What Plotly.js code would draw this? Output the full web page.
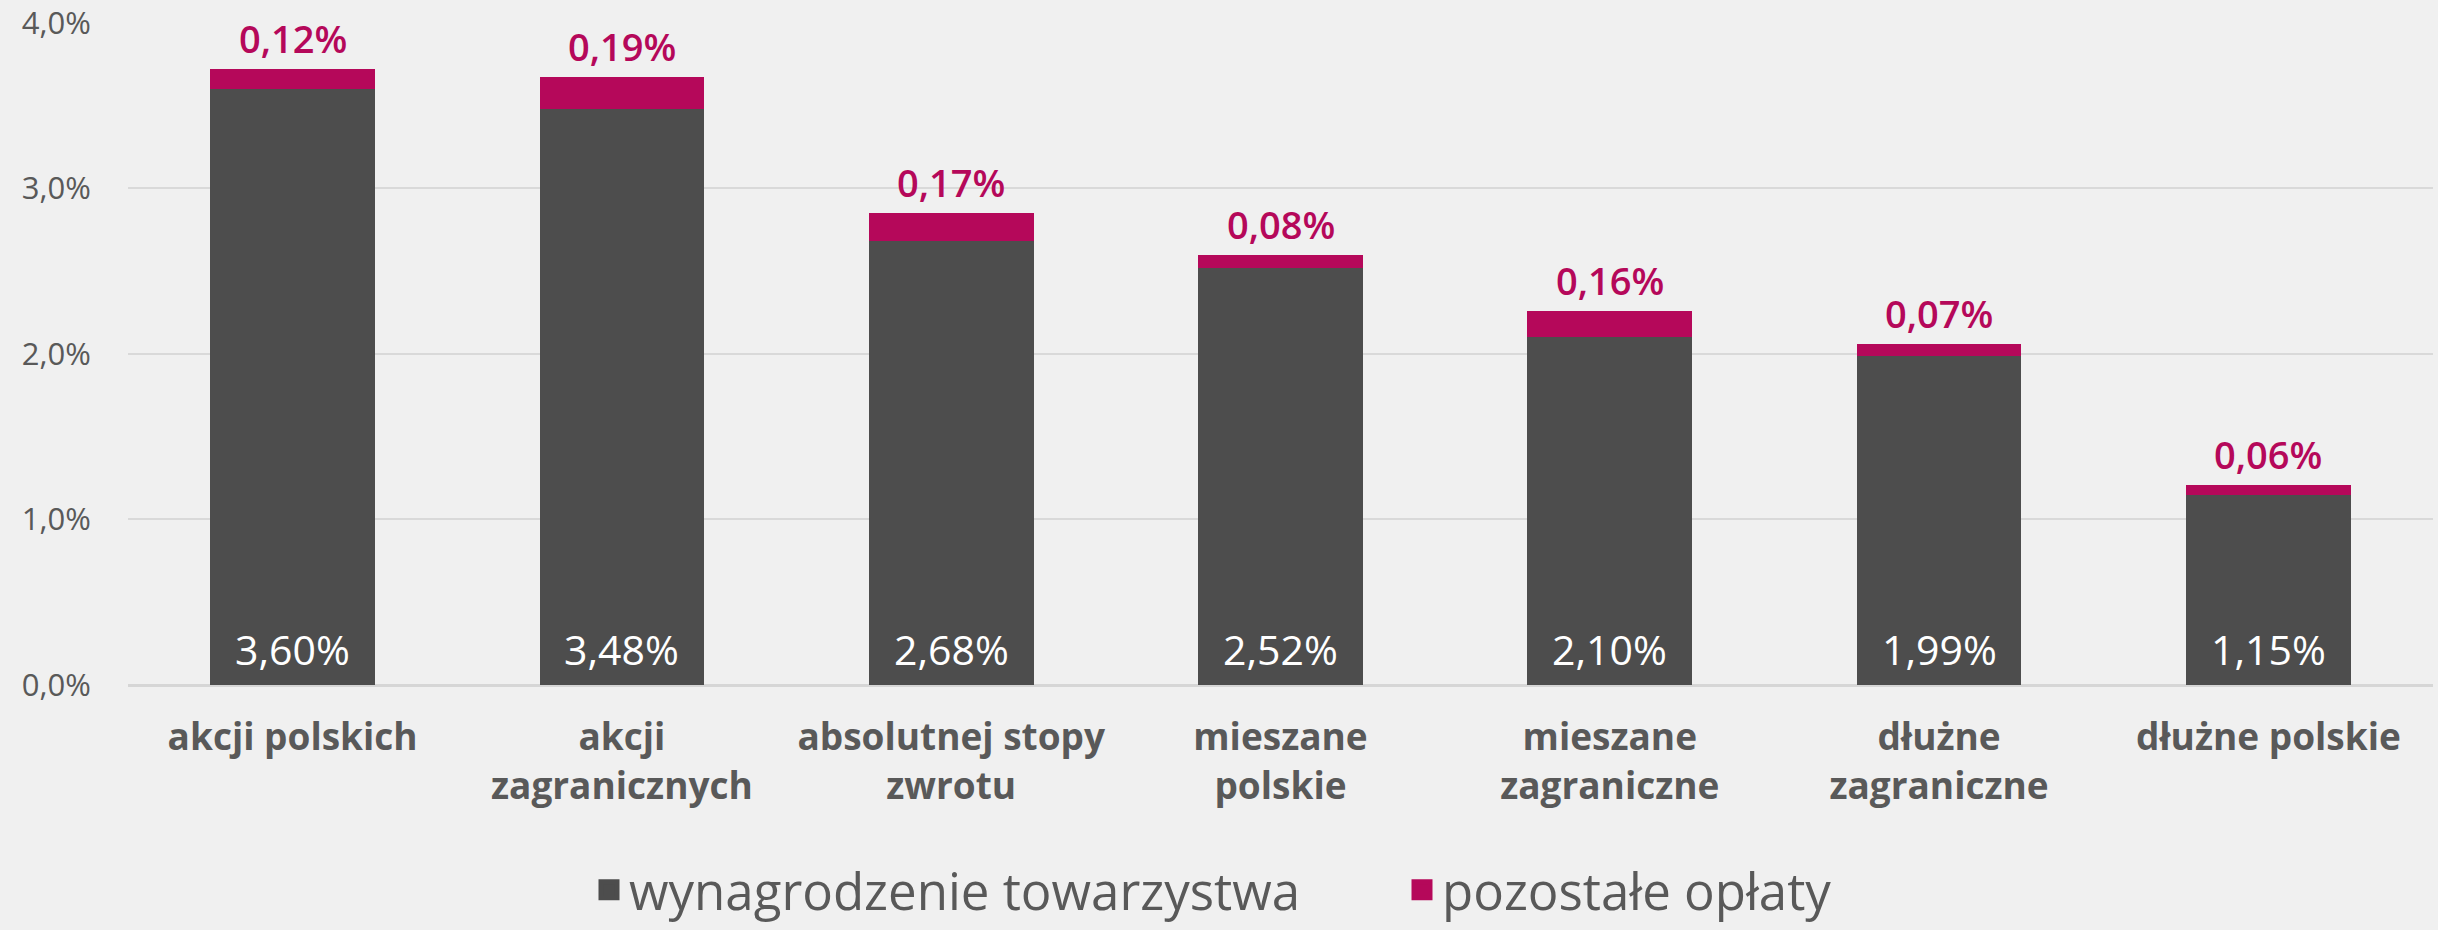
<!DOCTYPE html>
<html>
<head>
<meta charset="utf-8">
<script src="https://cdn.plot.ly/plotly-3.0.1.min.js"></script>
<style>
  html, body { margin: 0; padding: 0; background: #f0f0f0; }
  #chart { width: 2438px; height: 930px; }
</style>
</head>
<body>
<div id="chart"></div>
<script>
// categories (fund types) and the two stacked cost components, in %
const categories = [
    'akcji polskich',
    'akcji<br>zagranicznych',
    'absolutnej stopy<br>zwrotu',
    'mieszane<br>polskie',
    'mieszane<br>zagraniczne',
    'dłużne<br>zagraniczne',
    'dłużne polskie'
];
const wynagrodzenie = [3.60, 3.48, 2.68, 2.52, 2.10, 1.99, 1.15];
const pozostale = [0.12, 0.19, 0.17, 0.08, 0.16, 0.07, 0.06];
const seriesNames = ['wynagrodzenie towarzystwa', 'pozostałe opłaty'];
const yTicks = [0, 1, 2, 3, 4];

const fontFamily = '"Open Sans", "DejaVu Sans", sans-serif';
const grey = '#595959';
const dark = '#4d4d4d';
const magenta = '#b5085a';

// numbers with a comma as the decimal separator
function pct(v, digits) {
    return v.toFixed(digits).replace('.', ',') + '%';
}

const baseTrace = {
    x: categories,
    y: wynagrodzenie,
    type: 'bar',
    name: seriesNames[0],
    marker: { color: dark },
    showlegend: false,
    hoverinfo: 'skip'
};

const topTrace = {
    x: categories,
    y: pozostale,
    type: 'bar',
    name: seriesNames[1],
    marker: { color: magenta },
    showlegend: false,
    hoverinfo: 'skip'
};

// traces without visible points, only used for bigger square legend symbols
const legendTraces = [dark, magenta].map((color, i) => ({
    x: [categories[0]],
    y: [null],
    type: 'scatter',
    mode: 'markers',
    name: seriesNames[i],
    showlegend: true,
    marker: { symbol: 'square', size: 16, color: color, line: { color: color, width: 5 } },
    hoverinfo: 'skip'
}));

// white value labels at the foot of each dark bar
const baseLabels = categories.map((cat, i) => ({
    x: cat,
    y: 0,
    text: pct(wynagrodzenie[i], 2),
    showarrow: false,
    yanchor: 'bottom',
    yshift: 6,
    font: { family: fontFamily, size: 41, color: '#ffffff', weight: 500 }
}));

// magenta labels above each stack
const topLabels = categories.map((cat, i) => ({
    x: cat,
    y: wynagrodzenie[i] + pozostale[i],
    text: pct(pozostale[i], 2),
    showarrow: false,
    yanchor: 'bottom',
    yshift: 3,
    font: { family: fontFamily, size: 38, color: magenta, weight: 600 }
}));

const layout = {
    width: 2438,
    height: 930,
    barmode: 'stack',
    bargap: 0.5,
    paper_bgcolor: '#f0f0f0',
    plot_bgcolor: '#f0f0f0',
    font: { family: fontFamily, color: grey },
    margin: { l: 128, r: 5, t: 22, b: 245 },
    showlegend: true,
    legend: {
        orientation: 'h',
        xref: 'container',
        yref: 'container',
        x: 589 / 2438,
        xanchor: 'left',
        y: 0,
        yanchor: 'bottom',
        font: { family: fontFamily, size: 51, color: grey },
        traceorder: 'normal',
        itemwidth: 30,
        entrywidth: 768
    },
    xaxis: {
        tickfont: { family: fontFamily, size: 37, color: grey, weight: 'bold' },
        ticks: 'outside',
        ticklen: 20,
        tickcolor: 'rgba(0,0,0,0)',
        showline: false,
        showgrid: false
    },
    yaxis: {
        range: [0, 4.005],
        tickvals: yTicks,
        ticktext: yTicks.map(v => pct(v, 1)),
        tickfont: { family: fontFamily, size: 31, color: grey },
        ticks: 'outside',
        ticklen: 30,
        tickcolor: 'rgba(0,0,0,0)',
        gridcolor: '#d9d9d9',
        gridwidth: 2,
        zeroline: true,
        zerolinecolor: '#d6d6d6',
        zerolinewidth: 3,
        showline: false
    },
    annotations: baseLabels.concat(topLabels)
};

Plotly.newPlot('chart', [baseTrace, topTrace].concat(legendTraces), layout, { displayModeBar: false, staticPlot: true });
</script>
</body>
</html>
